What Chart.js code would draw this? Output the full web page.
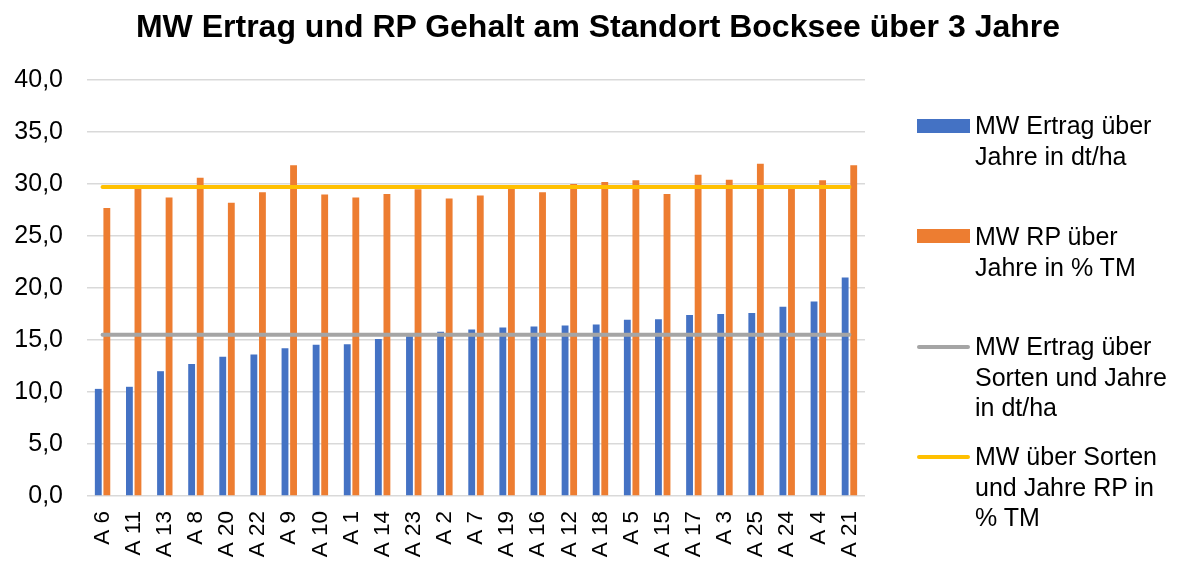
<!doctype html>
<html lang="de">
  <head>
    <meta charset="utf-8">
    <title>MW Ertrag und RP Gehalt</title>
    <script src="https://cdn.jsdelivr.net/npm/chart.js"></script>
    <style>
      * {
        margin: 0;
        padding: 0;
      }
      body {
        background: #fff;
        font-family: 'Liberation Sans', Arial, sans-serif;
        color: #000;
      }
      .chartBox {
        position: relative;
        width: 1181px;
        height: 561px;
      }
      .chartTitle {
        position: absolute;
        left: 0;
        top: 10px;
        width: 1196px;
        text-align: center;
        font-size: 32px;
        line-height: 32px;
        font-weight: bold;
      }
      .legend .item {
        position: absolute;
        left: 975px;
        font-size: 25px;
        line-height: 30.7px;
        white-space: nowrap;
      }
      .legend .mark {
        position: absolute;
        left: 917px;
        width: 53px;
      }
    </style>
  </head>
  <body>
    <div class="chartBox">
      <canvas id="myChart" width="1181" height="561"></canvas>
      <div class="chartTitle">MW Ertrag und RP Gehalt am Standort Bocksee über 3 Jahre</div>
      <div class="legend">
        <div class="mark" style="top:119px;height:14px;background:#4472c4"></div>
        <div class="item" style="top:110px">MW Ertrag über<br>Jahre in dt/ha</div>
        <div class="mark" style="top:229px;height:14px;background:#ed7d31"></div>
        <div class="item" style="top:221px">MW RP über<br>Jahre in % TM</div>
        <div class="mark" style="top:345px;height:4px;border-radius:2px;background:#a5a5a5"></div>
        <div class="item" style="top:331px">MW Ertrag über<br>Sorten und Jahre<br>in dt/ha</div>
        <div class="mark" style="top:455px;height:4px;border-radius:2px;background:#ffc000"></div>
        <div class="item" style="top:441px">MW über Sorten<br>und Jahre RP in<br>% TM</div>
      </div>
    </div>

    <script>
const sorten = ['A 6', 'A 11', 'A 13', 'A 8', 'A 20', 'A 22', 'A 9', 'A 10', 'A 1', 'A 14', 'A 23', 'A 2', 'A 7',
  'A 19', 'A 16', 'A 12', 'A 18', 'A 5', 'A 15', 'A 17', 'A 3', 'A 25', 'A 24', 'A 4', 'A 21'];

// MW Ertrag über Jahre in dt/ha
const ertrag = [10.3, 10.5, 12.0, 12.7, 13.4, 13.6, 14.2, 14.55, 14.6, 15.1, 15.35, 15.8, 16.0,
  16.2, 16.3, 16.4, 16.5, 16.95, 17.0, 17.4, 17.5, 17.6, 18.2, 18.7, 21.0];

// MW RP über Jahre in % TM
const rp = [27.7, 29.55, 28.7, 30.6, 28.2, 29.2, 31.8, 29.0, 28.7, 29.05, 29.5, 28.6, 28.9,
  29.55, 29.2, 30.0, 30.2, 30.35, 29.05, 30.9, 30.4, 31.95, 29.6, 30.35, 31.8];

// Mittelwerte über Sorten und Jahre
const mwErtrag = [15.5, 15.5, 15.5, 15.5, 15.5, 15.5, 15.5, 15.5, 15.5, 15.5, 15.5, 15.5, 15.5,
  15.5, 15.5, 15.5, 15.5, 15.5, 15.5, 15.5, 15.5, 15.5, 15.5, 15.5, 15.5];
const mwRP = [29.7, 29.7, 29.7, 29.7, 29.7, 29.7, 29.7, 29.7, 29.7, 29.7, 29.7, 29.7, 29.7,
  29.7, 29.7, 29.7, 29.7, 29.7, 29.7, 29.7, 29.7, 29.7, 29.7, 29.7, 29.7];

const yTicks = [0, 5, 10, 15, 20, 25, 30, 35, 40];

const data = {
  labels: sorten,
  datasets: [
    {
      type: 'bar',
      label: 'MW Ertrag über Jahre in dt/ha',
      data: ertrag,
      backgroundColor: '#4472c4',
      categoryPercentage: 0.55,
      barPercentage: 0.8,
      order: 2
    },
    {
      type: 'bar',
      label: 'MW RP über Jahre in % TM',
      data: rp,
      backgroundColor: '#ed7d31',
      categoryPercentage: 0.55,
      barPercentage: 0.8,
      order: 2
    },
    {
      type: 'line',
      label: 'MW Ertrag über Sorten und Jahre in dt/ha',
      data: mwErtrag,
      borderColor: '#a5a5a5',
      borderWidth: 4,
      pointRadius: 0,
      borderCapStyle: 'round',
      order: 1
    },
    {
      type: 'line',
      label: 'MW über Sorten und Jahre RP in % TM',
      data: mwRP,
      borderColor: '#ffc000',
      borderWidth: 4,
      pointRadius: 0,
      borderCapStyle: 'round',
      order: 1
    }
  ]
};

const config = {
  type: 'bar',
  data,
  options: {
    responsive: false,
    animation: false,
    layout: {
      padding: { left: 12, right: 316, top: 80, bottom: 0 }
    },
    plugins: {
      legend: { display: false },
      tooltip: { enabled: false }
    },
    scales: {
      x: {
        grid: { display: false, drawTicks: false },
        border: { display: false },
        afterFit: (axis) => { axis.height = 65; },
        ticks: {
          color: '#000',
          font: { family: 'Liberation Sans', size: 22.5 },
          minRotation: 90,
          maxRotation: 90,
          padding: 15,
          autoSkip: false
        }
      },
      y: {
        min: 0,
        max: 40,
        afterBuildTicks: (axis) => {
          axis.ticks = yTicks.map(v => ({ value: v }));
        },
        afterFit: (axis) => { axis.width = 75; },
        grid: { color: '#d9d9d9', lineWidth: 1.5, drawTicks: false },
        border: { display: false },
        ticks: {
          color: '#000',
          font: { family: 'Liberation Sans', size: 25 },
          padding: 24,
          callback: (v) => v.toFixed(1).replace('.', ',')
        }
      }
    }
  }
};

const myChart = new Chart(document.getElementById('myChart'), config);
    </script>
  </body>
</html>
